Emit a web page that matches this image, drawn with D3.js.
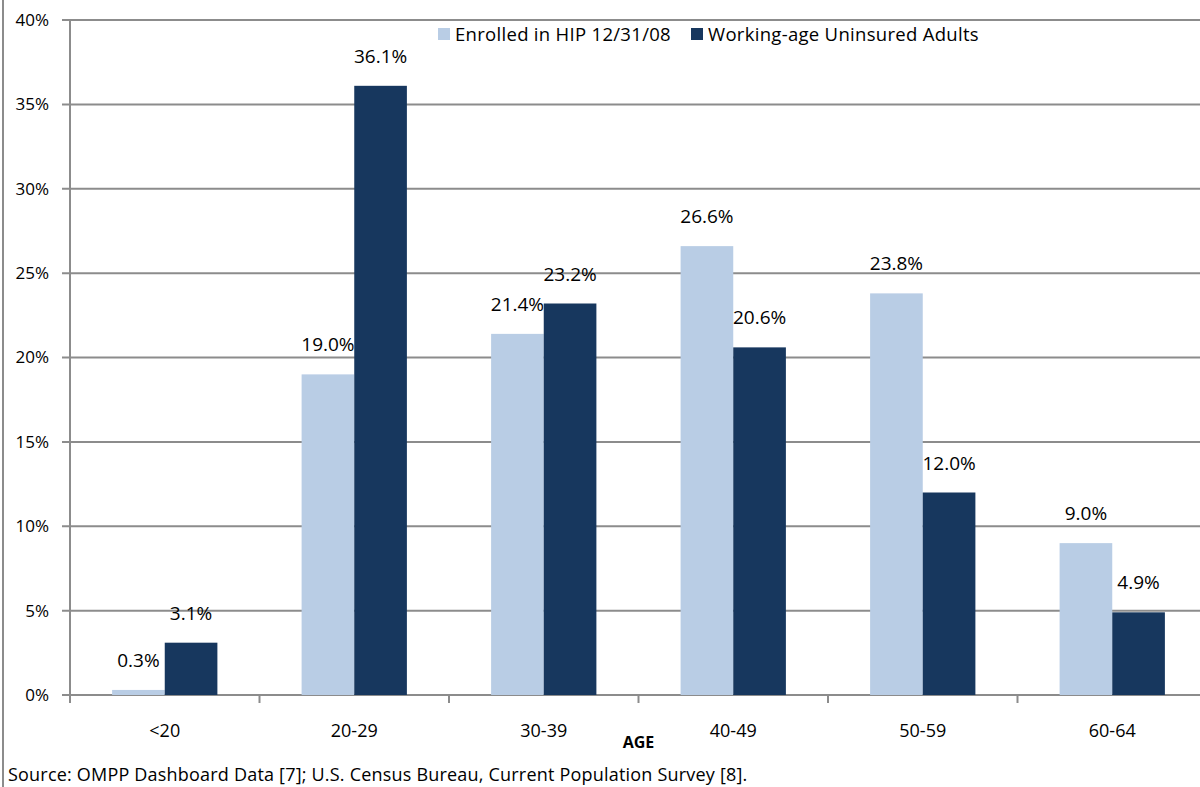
<!DOCTYPE html>
<html>
<head>
<meta charset="utf-8">
<script src="https://cdn.jsdelivr.net/npm/d3@7"></script>
<style>
  body { margin: 0; background: #fff; }
  svg text { font-family: "Open Sans", sans-serif; fill: #000; }
</style>
</head>
<body>
<div id="chart"></div>
<script>
let width_chart = 1200;
let height_chart = 787;

const categories = ["<20", "20-29", "30-39", "40-49", "50-59", "60-64"];
const seriesNames = ["Enrolled in HIP 12/31/08", "Working-age Uninsured Adults"];
const enrolled = [0.3, 19.0, 21.4, 26.6, 23.8, 9.0];
const uninsured = [3.1, 36.1, 23.2, 20.6, 12.0, 4.9];
const yTicks = [0, 5, 10, 15, 20, 25, 30, 35, 40];
const colors = ["#b9cde5", "#17375e"];

const margin = {top: 20, left: 70, bottom: 92, right: -7};

let svg = d3.select('#chart').append('svg')
    .attr('width', width_chart)
    .attr('height', height_chart);

// outer frame line on the left
svg.append("line")
    .attr("x1", 3).attr("x2", 3)
    .attr("y1", 0).attr("y2", height_chart)
    .attr("stroke", "#8c8c8c").attr("stroke-width", 2);

var x = d3.scaleBand()
    .domain(categories)
    .range([margin.left, width_chart - margin.right]);

var xSub = d3.scaleBand()
    .domain([0, 1])
    .range([0, x.bandwidth()])
    .paddingOuter(0.8);

var y = d3.scaleLinear()
    .domain([0, 40])
    .range([height_chart - margin.bottom, margin.top]);

// gridlines
svg.append("g")
  .selectAll("line")
  .data(yTicks)
  .enter().append("line")
    .attr("x1", margin.left - 8)
    .attr("x2", width_chart)
    .attr("y1", function(d) { return y(d); })
    .attr("y2", function(d) { return y(d); })
    .attr("stroke", "#8c8c8c")
    .attr("stroke-width", 2);

// y labels
svg.append("g")
  .selectAll("text")
  .data(yTicks)
  .enter().append("text")
    .attr("x", 49)
    .attr("y", function(d) { return y(d); })
    .attr("dy", "0.35em")
    .attr("text-anchor", "end")
    .style("font-size", "17px")
    .text(function(d) { return d + "%"; });

// y axis line
svg.append("line")
    .attr("x1", margin.left).attr("x2", margin.left)
    .attr("y1", y(40)).attr("y2", y(0) + 8)
    .attr("stroke", "#8c8c8c").attr("stroke-width", 2);

// x tick marks between categories
var bounds = categories.map(function(c) { return x(c); }).slice(1);
svg.append("g")
  .selectAll("line")
  .data(bounds)
  .enter().append("line")
    .attr("x1", function(d) { return d; })
    .attr("x2", function(d) { return d; })
    .attr("y1", y(0))
    .attr("y2", y(0) + 8)
    .attr("stroke", "#8c8c8c")
    .attr("stroke-width", 2);

// bars
var rows = categories.map(function(c, i) {
  return {cat: c, vals: [enrolled[i], uninsured[i]]};
});

var group = svg.append("g")
  .selectAll("g")
  .data(rows)
  .enter().append("g")
    .attr("transform", function(d) { return "translate(" + x(d.cat) + ",0)"; });

group.selectAll("rect")
  .data(function(d) { return d.vals; })
  .enter().append("rect")
    .attr("x", function(d, i) { return xSub(i); })
    .attr("y", function(d) { return y(d); })
    .attr("width", xSub.bandwidth())
    .attr("height", function(d) { return y(0) - y(d); })
    .attr("fill", function(d, i) { return colors[i]; });

group.selectAll("text")
  .data(function(d) { return d.vals; })
  .enter().append("text")
    .attr("x", function(d, i) { return xSub(i) + xSub.bandwidth() / 2; })
    .attr("y", function(d) { return y(d) - 23; })
    .attr("text-anchor", "middle")
    .style("font-size", "19px")
    .text(function(d) { return d.toFixed(1) + "%"; });

// x labels
svg.append("g")
  .selectAll("text")
  .data(categories)
  .enter().append("text")
    .attr("x", function(d) { return x(d) + x.bandwidth() / 2; })
    .attr("y", 737)
    .attr("text-anchor", "middle")
    .style("font-size", "18px")
    .text(function(d) { return d; });

svg.append("text")
    .attr("x", (margin.left + width_chart - margin.right) / 2)
    .attr("y", 748)
    .attr("text-anchor", "middle")
    .style("font-size", "16px")
    .style("font-weight", "bold")
    .text("AGE");

// legend
var legend = svg.append("g");
var legendX = [438, 691];
seriesNames.forEach(function(name, i) {
  legend.append("rect")
      .attr("x", legendX[i]).attr("y", 28)
      .attr("width", 12).attr("height", 12)
      .attr("fill", colors[i]);
  legend.append("text")
      .attr("x", legendX[i] + 17).attr("y", 41)
      .style("font-size", "18.5px")
      .style("letter-spacing", "0.3px")
      .text(name);
});

svg.append("text")
    .attr("x", 8).attr("y", 781)
    .style("font-size", "18px")
    .style("letter-spacing", "0.2px")
    .text("Source: OMPP Dashboard Data [7]; U.S. Census Bureau, Current Population Survey [8].");
</script>
</body>
</html>
